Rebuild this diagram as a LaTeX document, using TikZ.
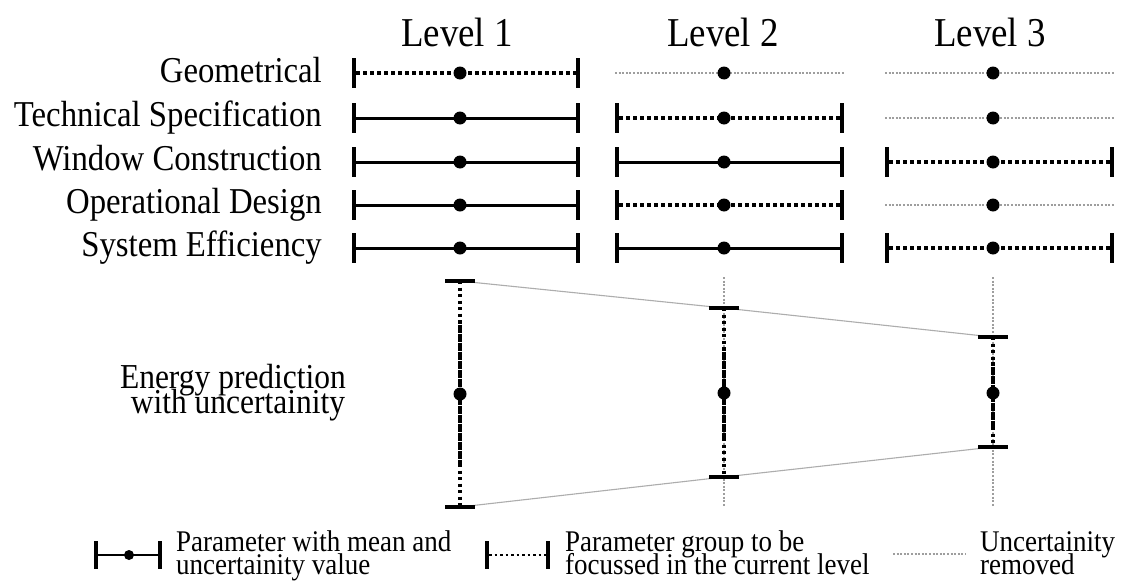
\documentclass[tikz,border=0pt]{standalone}
\usepackage{fontspec}
\setmainfont{Liberation Serif}[FakeStretch=0.9]
\definecolor{gone}{gray}{0.62}
\definecolor{trend}{gray}{0.68}
\newcommand\levelfont{\fontsize{41}{41}\selectfont}
\newcommand\rowfont{\fontsize{36.4}{36.4}\selectfont}
\newcommand\energyfont{\fontsize{35}{35}\selectfont}
\newcommand\legfont{\fontsize{30}{30}\selectfont}

% one parameter row: name, left end, mean, right end, y
\newcommand\solidrow[5]{%
  \coordinate (#1-l) at (#2,#5);
  \coordinate (#1-r) at (#4,#5);
  \draw[bar] (#1-l) -- (#1-r);
  \draw[tick] ([yshift=15pt]#1-l) -- ([yshift=-15pt]#1-l);
  \draw[tick] ([yshift=15pt]#1-r) -- ([yshift=-15pt]#1-r);
  \node[meandot] (#1-m) at (#3,#5) {};}
\newcommand\focusrow[5]{%
  \coordinate (#1-l) at (#2,#5);
  \coordinate (#1-r) at (#4,#5);
  \draw[focus] (#1-l) -- (#1-r);
  \draw[tick] ([yshift=15pt]#1-l) -- ([yshift=-15pt]#1-l);
  \draw[tick] ([yshift=15pt]#1-r) -- ([yshift=-15pt]#1-r);
  \node[meandot] (#1-m) at (#3,#5) {};}
\newcommand\gonerow[5]{%
  \coordinate (#1-l) at (#2,#5);
  \coordinate (#1-r) at (#4,#5);
  \draw[removed] (#1-l) -- (#1-r);
  \node[meandot] (#1-m) at (#3,#5) {};}

\begin{document}
\begin{tikzpicture}[x=1pt,y=-1pt,
  bar/.style={line width=3pt},
  focus/.style={line width=3.5pt, dash pattern=on 3.5pt off 3.5pt, dash phase=-2pt},
  removed/.style={line width=2pt, gone, dash pattern=on 2pt off 1.6pt},
  tick/.style={line width=4pt},
  meandot/.style={circle, fill=black, inner sep=0pt, minimum size=13pt},
  vsparse/.style={line width=3.5pt, dash pattern=on 3pt off 3.5pt},
  vdense/.style={line width=3.2pt, dash pattern=on 4pt off 0.5pt},
  trendline/.style={line width=1.1pt, trend},
  label/.style={inner sep=0pt, font=\rowfont, anchor=base east},
  header/.style={inner sep=0pt, font=\levelfont, anchor=base},
  legtext/.style={inner sep=0pt, font=\legfont, anchor=base west}]

\useasboundingbox[fill=white] (0,0) rectangle (1126,581);

% column headers
\node[header] (h1) at (457,46) {Level 1};
\node[header] (h2) at (723,46) {Level 2};
\node[header] (h3) at (990,46) {Level 3};

% parameter group labels
\node[label] (p1) at (322,82) {Geometrical};
\node[label] (p2) at (322,126) {Technical Specification};
\node[label] (p3) at (322,170) {Window Construction};
\node[label] (p4) at (322,213) {Operational Design};
\node[label] (p5) at (322,256) {System Efficiency};

% level 1
\focusrow{a1}{354}{460}{578}{73}
\solidrow{a2}{354}{460}{578}{118}
\solidrow{a3}{354}{460}{578}{162}
\solidrow{a4}{354}{460}{578}{205}
\solidrow{a5}{354}{460}{578}{248}

% level 2
\gonerow{b1}{615}{724}{845}{73}
\focusrow{b2}{617}{724}{842}{118}
\solidrow{b3}{617}{724}{842}{162}
\focusrow{b4}{617}{724}{842}{205}
\solidrow{b5}{617}{724}{842}{248}

% level 3
\gonerow{c1}{885}{993}{1114}{73}
\gonerow{c2}{885}{993}{1114}{118}
\focusrow{c3}{887}{993}{1112}{162}
\gonerow{c4}{885}{993}{1114}{205}
\focusrow{c5}{887}{993}{1112}{248}

% energy prediction label
\node[inner sep=0pt, font=\energyfont, anchor=base] (e0a) at (233,388) {Energy prediction};
\node[inner sep=0pt, font=\energyfont, anchor=base] (e0b) at (238,413) {with uncertainity};

% energy prediction ranges
\coordinate (e1-t) at (460,281);
\coordinate (e1-b) at (460,507);
\coordinate (e1-ut) at (460,320);
\coordinate (e1-ub) at (460,464);
\coordinate (e2-t) at (724,308);
\coordinate (e2-b) at (724,477);
\coordinate (e2-ut) at (724,347);
\coordinate (e2-ub) at (724,438);
\coordinate (e2-gt) at (724,277);
\coordinate (e2-gb) at (724,507);
\coordinate (e3-t) at (993,337);
\coordinate (e3-b) at (993,447);
\coordinate (e3-ut) at (993,362);
\coordinate (e3-ub) at (993,427);
\coordinate (e3-gt) at (993,277);
\coordinate (e3-gb) at (993,507);

% removed part of the range
\draw[removed] (e2-gt) -- (e2-gb);
\draw[removed] (e3-gt) -- (e3-gb);

% narrowing envelope
\draw[trendline] (e1-t) -- (e2-t) -- (e3-t);
\draw[trendline] (e1-b) -- (e2-b) -- (e3-b);

\foreach \k in {1,2,3}{
  \draw[vsparse] (e\k-t) -- (e\k-ut);
  \draw[vdense] (e\k-ut) -- (e\k-ub);
  \draw[vsparse] (e\k-ub) -- (e\k-b);
  \draw[tick] ([xshift=-15pt]e\k-t) -- ([xshift=15pt]e\k-t);
  \draw[tick] ([xshift=-15pt]e\k-b) -- ([xshift=15pt]e\k-b);
}
\node[meandot] (e1-m) at (460,394) {};
\node[meandot] (e2-m) at (724,393) {};
\node[meandot] (e3-m) at (993,393) {};

% legend
\coordinate (k1-l) at (96,555);
\coordinate (k1-r) at (160,555);
\draw[line width=2.5pt] (k1-l) -- (k1-r);
\draw[line width=3.5pt] ([yshift=14pt]k1-l) -- ([yshift=-14pt]k1-l);
\draw[line width=3.5pt] ([yshift=14pt]k1-r) -- ([yshift=-14pt]k1-r);
\node[meandot, minimum size=10pt] (k1-m) at (129,555) {};
\node[legtext] (t1a) at (176,551) {Parameter with mean and};
\node[legtext] (t1b) at (176,574) {uncertainity value};

\coordinate (k2-l) at (487,555);
\coordinate (k2-r) at (548,555);
\draw[line width=2.5pt, dash pattern=on 2.5pt off 3pt, dash phase=-2pt] (k2-l) -- (k2-r);
\draw[line width=3.5pt] ([yshift=14pt]k2-l) -- ([yshift=-14pt]k2-l);
\draw[line width=3.5pt] ([yshift=14pt]k2-r) -- ([yshift=-14pt]k2-r);
\node[legtext] (t2a) at (565,551) {Parameter group to be};
\node[legtext] (t2b) at (565,574) {focussed in the current level};

\coordinate (k3-l) at (893,554);
\coordinate (k3-r) at (966,554);
\draw[removed] (k3-l) -- (k3-r);
\node[legtext] (t3a) at (980,551) {Uncertainity};
\node[legtext] (t3b) at (980,574) {removed};

\end{tikzpicture}
\end{document}
